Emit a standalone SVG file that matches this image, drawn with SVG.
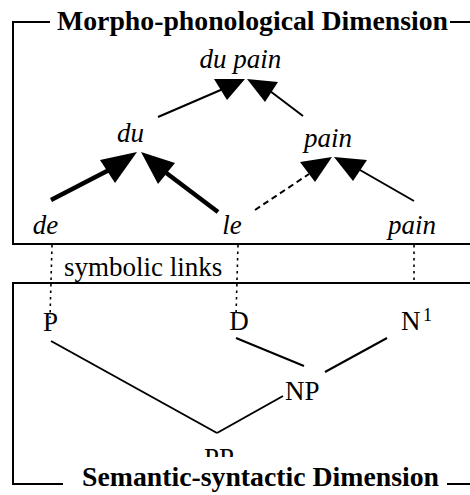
<svg xmlns="http://www.w3.org/2000/svg" width="470" height="495" viewBox="0 0 470 495">
<style>
text{font-family:"Liberation Serif","Times New Roman",serif;fill:#000}
.it{font-style:italic;font-size:27px}
.rm{font-size:27px}
.title{font-weight:bold;font-size:28px}
.frame{stroke:#000;stroke-width:2;fill:none}
.thin{stroke:#000;stroke-width:2;fill:none}
.thick{stroke:#000;stroke-width:4.5;fill:none}
.dash{stroke:#000;stroke-width:2;fill:none;stroke-dasharray:6 4}
.dot{stroke:#000;stroke-width:1.6;fill:none;stroke-dasharray:2.5 4}
.head{fill:#000;stroke:none}
</style>
<defs>
<clipPath id="ppclip"><rect x="0" y="0" width="470" height="457"/></clipPath>
</defs>
<g id="frames">
<polyline class="frame" points="50,22 13,22 13,244 470,244"/>
<line class="frame" x1="450" y1="22" x2="470" y2="22"/>
<polyline class="frame" points="470,283 13,283 13,484 63,484"/>
<line class="frame" x1="447" y1="484" x2="470" y2="484"/>
</g>
<g id="connectors">
<line class="thin" x1="158" y1="117" x2="223" y2="89"/>
<polygon class="head" points="214,79 245,79 227,100"/>
<line class="thin" x1="303" y1="116" x2="270" y2="91"/>
<polygon class="head" points="247,79 278,82 265,102"/>
<line class="thick" x1="51" y1="200" x2="109" y2="170"/>
<polygon class="head" points="100,160 137,152 115,183"/>
<line class="thick" x1="218" y1="212" x2="165" y2="172"/>
<polygon class="head" points="141,152 175,163 158,184"/>
<line class="dash" x1="255" y1="210" x2="309" y2="174"/>
<polygon class="head" points="300,162 332,157 315,182"/>
<line class="thin" x1="414" y1="201" x2="360" y2="170"/>
<polygon class="head" points="334,157 367,160 353,181"/>
<line class="dot" x1="52" y1="245" x2="50" y2="318"/>
<line class="dot" x1="238" y1="245" x2="236" y2="316"/>
<line class="dot" x1="414" y1="245" x2="414" y2="283"/>
<line class="thin" x1="51" y1="341" x2="217" y2="433"/>
<line class="thin" x1="217" y1="433" x2="283" y2="396"/>
<line class="thin" x1="236" y1="338" x2="304" y2="366"/>
<line class="thin" x1="387" y1="338" x2="325" y2="372"/>
</g>
<g id="title-top"><text class="title" x="57" y="30" textLength="391" lengthAdjust="spacingAndGlyphs">Morpho-phonological Dimension</text></g>
<g id="title-bottom"><text class="title" x="82" y="486" textLength="357" lengthAdjust="spacingAndGlyphs">Semantic-syntactic Dimension</text></g>
<g id="node-dupain"><text class="it" x="240.5" y="68" text-anchor="middle">du pain</text></g>
<g id="node-du"><text class="it" x="130.5" y="142" text-anchor="middle">du</text></g>
<g id="node-pain-mid"><text class="it" x="328" y="147" text-anchor="middle">pain</text></g>
<g id="node-de"><text class="it" x="45.5" y="234" text-anchor="middle">de</text></g>
<g id="node-le"><text class="it" x="232" y="234" text-anchor="middle">le</text></g>
<g id="node-pain-right"><text class="it" x="412" y="234" text-anchor="middle">pain</text></g>
<g id="label-links"><text class="rm" x="64" y="276">symbolic links</text></g>
<g id="node-P"><text class="rm" x="50.5" y="331" text-anchor="middle">P</text></g>
<g id="node-D"><text class="rm" x="239" y="330" text-anchor="middle">D</text></g>
<g id="node-N"><text class="rm" x="401" y="330">N</text><text x="423" y="321" style="font-size:18px">1</text></g>
<g id="node-NP"><text class="rm" x="285" y="400">NP</text></g>
<g id="node-PP"><text class="rm" x="204" y="467" clip-path="url(#ppclip)">PP</text></g>
</svg>
